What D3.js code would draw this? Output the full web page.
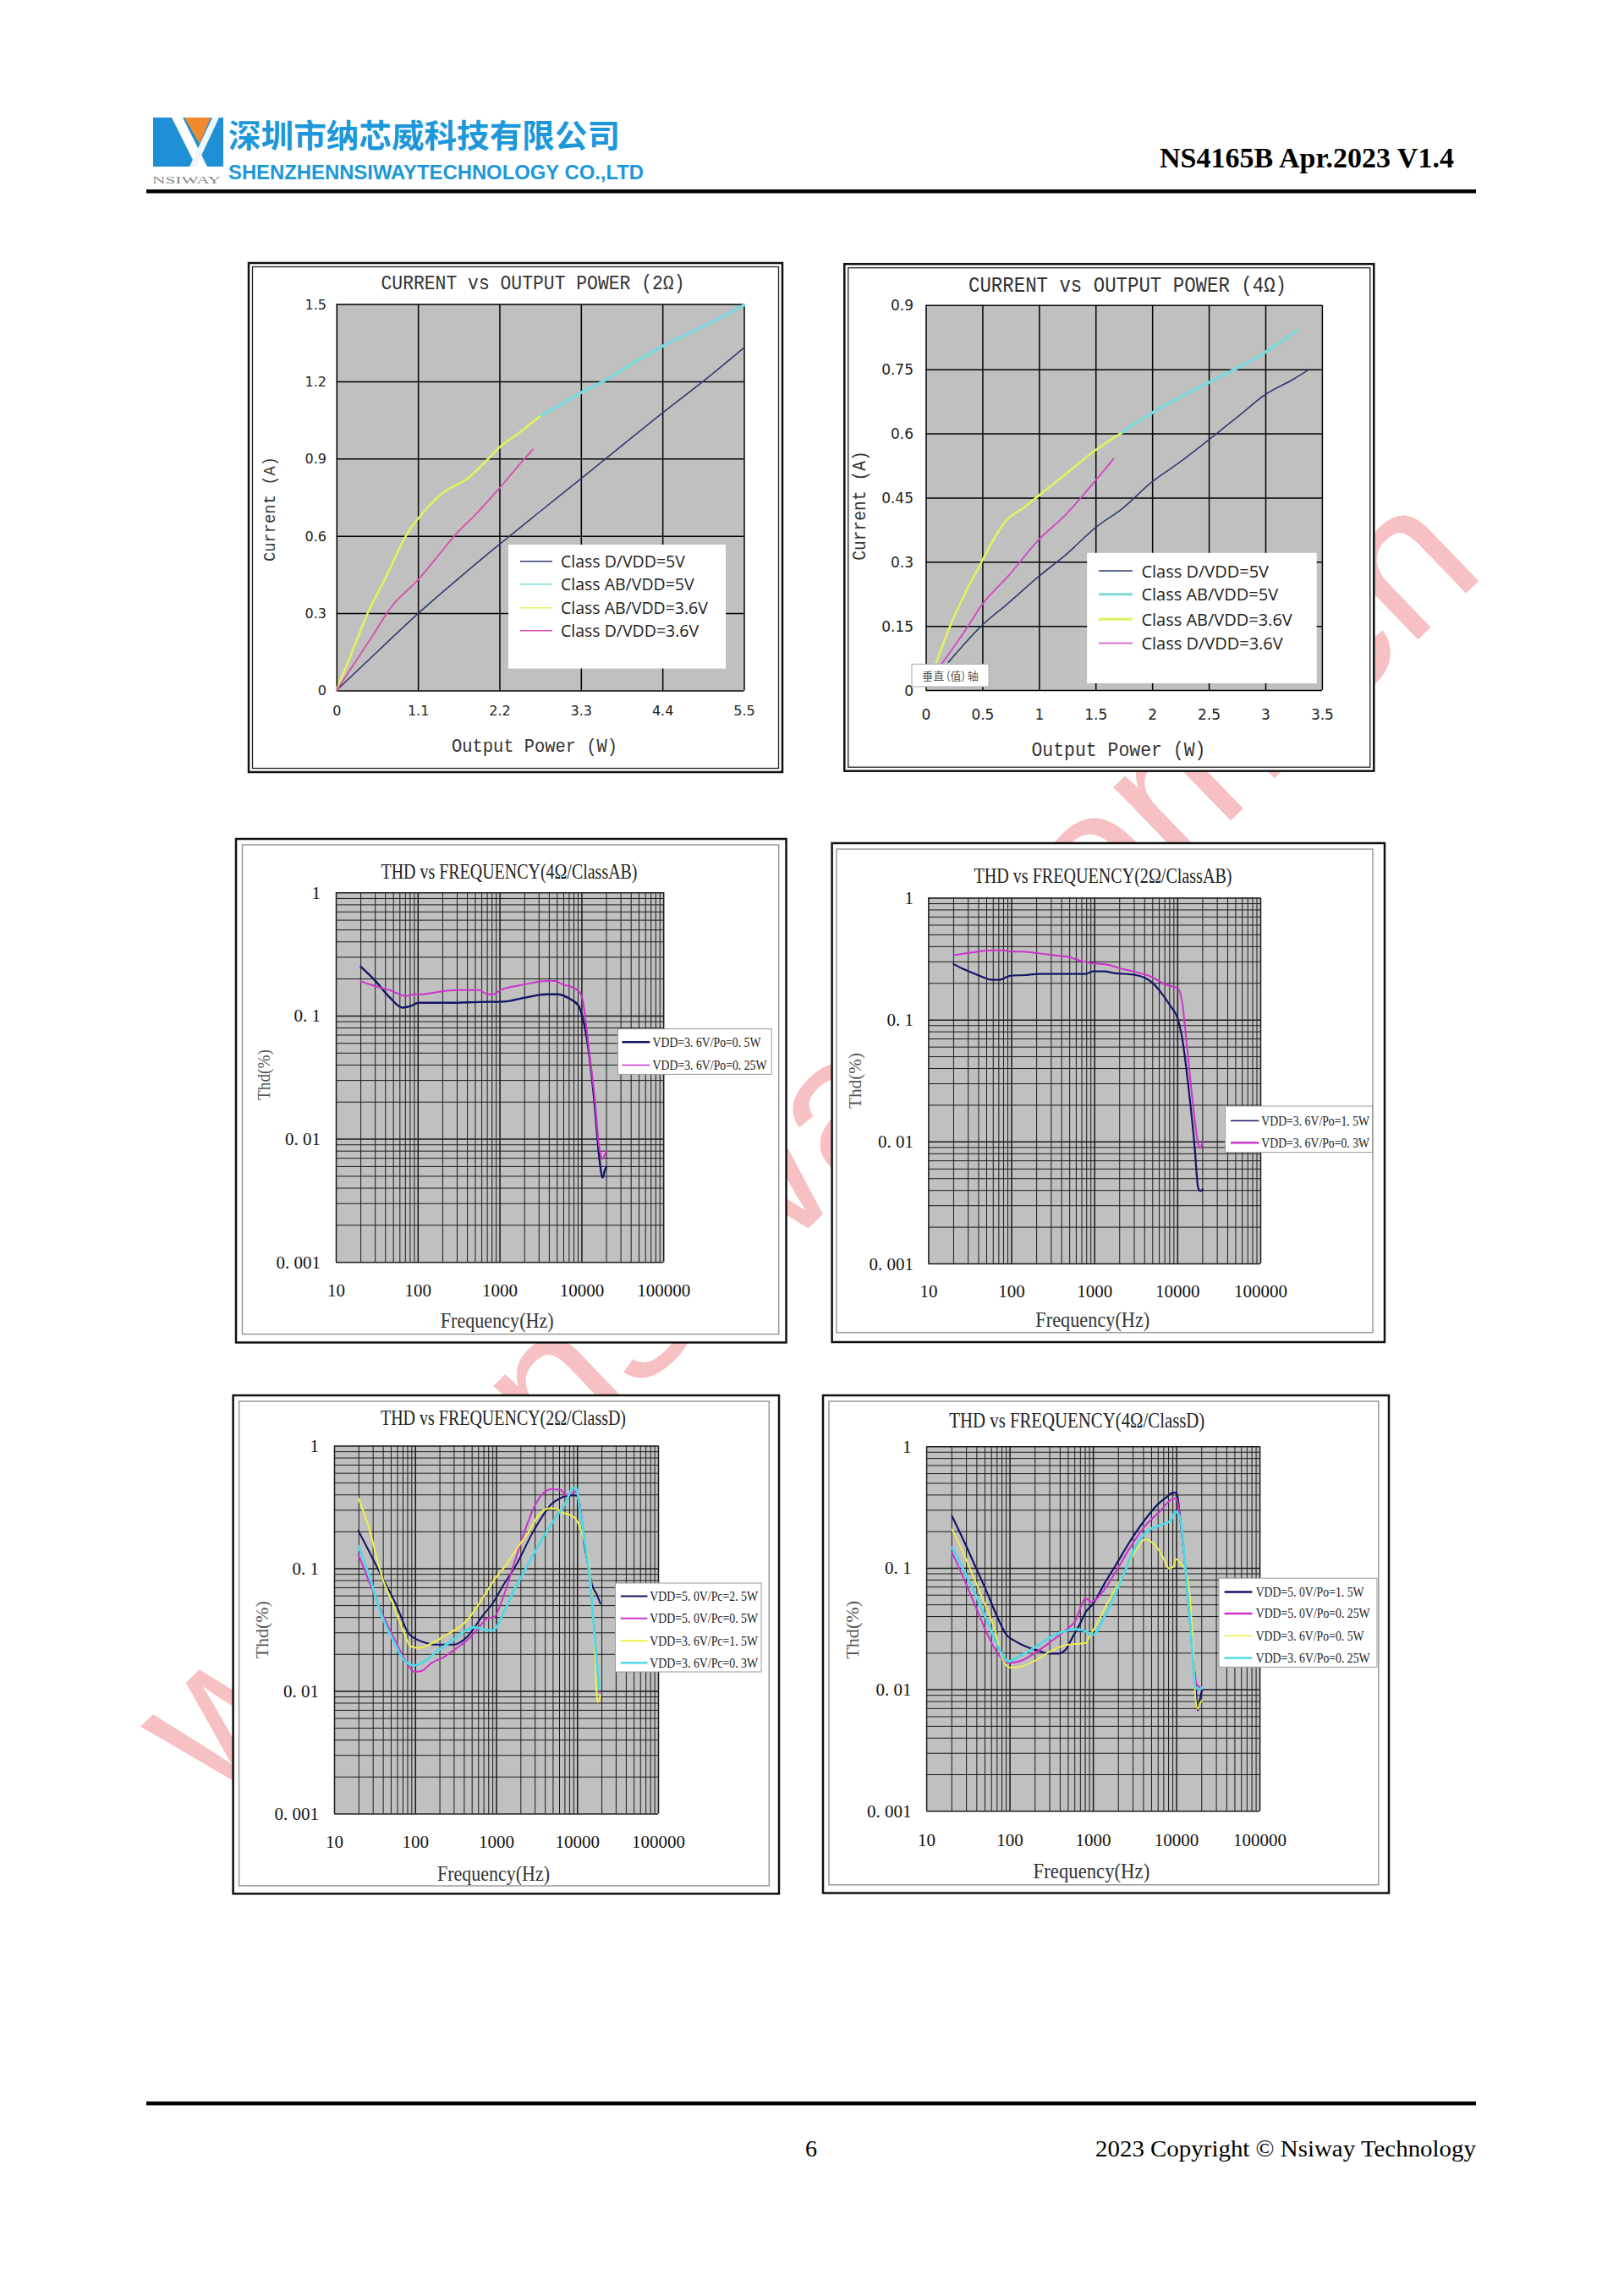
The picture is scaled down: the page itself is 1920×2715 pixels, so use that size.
<!DOCTYPE html>
<html><head><meta charset="utf-8">
<script src="https://cdn.jsdelivr.net/npm/d3@7"></script>
<style>html,body{margin:0;padding:0;background:#fff;}svg{display:block;}</style>
</head><body>
<svg id="page" width="1920" height="2715"></svg>
<script>
// ================= DATA =================
const headerCn = "深圳市纳芯威科技有限公司";
const headerEn = "SHENZHENNSIWAYTECHNOLOGY CO.,LTD";
const logoText = "NSIWAY";
const docTitle = "NS4165B Apr.2023 V1.4";
const pageNum = "6";
const copyright = "2023 Copyright © Nsiway Technology";
const watermarkText = "www.nsiway.com.cn";
const tooltipText = "垂直 (值) 轴";

// Current vs output power charts
const curSeriesNames = ["Class D/VDD=5V", "Class AB/VDD=5V", "Class AB/VDD=3.6V", "Class D/VDD=3.6V"];
const cur2XTicks = [0, 1.1, 2.2, 3.3, 4.4, 5.5];
const cur2XLabels = ["0", "1.1", "2.2", "3.3", "4.4", "5.5"];
const cur2YTicks = [0, 0.3, 0.6, 0.9, 1.2, 1.5];
const cur2YLabels = ["0", "0.3", "0.6", "0.9", "1.2", "1.5"];
const cur4XTicks = [0, 0.5, 1, 1.5, 2, 2.5, 3, 3.5];
const cur4XLabels = ["0", "0.5", "1", "1.5", "2", "2.5", "3", "3.5"];
const cur4YTicks = [0, 0.15, 0.3, 0.45, 0.6, 0.75, 0.9];
const cur4YLabels = ["0", "0.15", "0.3", "0.45", "0.6", "0.75", "0.9"];

// 2 ohm
const cur2_D5 = [[0,0],[0.55,0.15],[1.1,0.298],[1.65,0.435],[2.2,0.567],[2.75,0.695],[3.3,0.822],[3.85,0.95],[4.4,1.077],[4.95,1.2],[5.5,1.33]];
const cur2_AB5 = [[2.745,1.064],[3.0,1.105],[3.3,1.156],[3.6,1.2],[4.0,1.27],[4.4,1.336],[5.0,1.42],[5.5,1.496]];
const cur2_AB36 = [[0,0],[0.19,0.135],[0.43,0.305],[0.66,0.436],[0.95,0.606],[1.23,0.71],[1.42,0.763],[1.8,0.83],[2.03,0.894],[2.21,0.946],[2.46,0.999],[2.745,1.064]];
const cur2_D36 = [[0,0],[0.43,0.187],[0.76,0.331],[1.1,0.429],[1.33,0.508],[1.61,0.606],[1.9,0.69],[2.21,0.789],[2.45,0.87],[2.65,0.936]];
// 4 ohm
const cur4_D5 = [[0.2,0.065],[0.496,0.151],[0.71,0.199],[1.0,0.266],[1.24,0.317],[1.5,0.38],[1.73,0.423],[2.0,0.487],[2.23,0.53],[2.5,0.585],[2.76,0.64],[3.0,0.691],[3.25,0.727],[3.39,0.75]];
const cur4_AB5 = [[1.72,0.6],[2.0,0.648],[2.5,0.719],[2.73,0.75],[3.0,0.79],[3.28,0.841]];
const cur4_AB36 = [[0.093,0.065],[0.217,0.151],[0.34,0.222],[0.496,0.301],[0.59,0.348],[0.71,0.396],[0.87,0.427],[1.0,0.455],[1.24,0.506],[1.5,0.561],[1.72,0.6]];
const cur4_D36 = [[0.14,0.061],[0.34,0.136],[0.496,0.199],[0.74,0.27],[1.0,0.352],[1.24,0.411],[1.5,0.49],[1.66,0.541]];

// THD vs frequency charts
const thdXTicks = [10, 100, 1000, 10000, 100000];
const thdXLabels = ["10", "100", "1000", "10000", "100000"];
const thdYTicks = [0.001, 0.01, 0.1, 1];
const thdYLabels = ["0. 001", "0. 01", "0. 1", "1"];

const thd4abNames = ["VDD=3. 6V/Po=0. 5W", "VDD=3. 6V/Po=0. 25W"];
const thd4ab_05 = [[20.1,0.25],[30.7,0.19],[45.8,0.14],[65,0.116],[83.5,0.12],[102,0.127],[251,0.127],[560,0.129],[1127,0.13],[2055,0.14],[3750,0.149],[5060,0.149],[7190,0.137],[9230,0.12],[10200,0.1],[12470,0.0476],[14500,0.0189],[16500,0.00707],[18230,0.00483],[19200,0.0055],[20150,0.00588]];
const thd4ab_025 = [[20.1,0.19],[30.7,0.173],[45.8,0.161],[72,0.144],[92,0.149],[118,0.149],[168,0.155],[307,0.161],[560,0.161],[719,0.149],[835,0.149],[1020,0.161],[1860,0.177],[3750,0.191],[4820,0.191],[5890,0.179],[7190,0.173],[9230,0.158],[10200,0.14],[12470,0.0506],[14500,0.0214],[16500,0.0085],[18230,0.00686],[19200,0.0073],[20150,0.008]];

const thd2abNames = ["VDD=3. 6V/Po=1. 5W", "VDD=3. 6V/Po=0. 3W"];
const thd2ab_15 = [[20.2,0.285],[26.4,0.26],[39.5,0.232],[58.9,0.212],[71.9,0.212],[97,0.229],[145,0.232],[217,0.237],[798,0.237],[955,0.249],[1318,0.249],[1692,0.241],[2936,0.234],[3963,0.222],[5090,0.199],[6540,0.163],[8410,0.127],[9970,0.105],[11360,0.0728],[13870,0.0253],[16130,0.00935],[17830,0.00418],[18930,0.00393],[20130,0.00405]];
const thd2ab_03 = [[20.2,0.337],[32.3,0.354],[58.9,0.37],[79.6,0.37],[97,0.361],[131.5,0.361],[196,0.352],[358,0.335],[484,0.327],[722,0.3],[976,0.289],[1456,0.282],[1966,0.265],[2936,0.249],[4840,0.225],[7240,0.194],[10280,0.179],[11360,0.144],[13200,0.0567],[15360,0.021],[17830,0.00966],[18750,0.0088],[20130,0.00995]];

const thd2dNames = ["VDD=5. 0V/Pc=2. 5W", "VDD=5. 0V/Pc=0. 5W", "VDD=3. 6V/Pc=1. 5W", "VDD=3. 6V/Pc=0. 3W"];
const thd2d_5_25 = [[19.9,0.203],[26.2,0.143],[39.2,0.0845],[58.7,0.05],[83.7,0.0292],[108,0.0261],[139,0.0245],[179,0.0238],[297,0.0238],[445,0.0278],[667,0.0402],[903,0.0515],[1224,0.0724],[1835,0.111],[2754,0.189],[3727,0.265],[4800,0.333],[6180,0.372],[7960,0.391],[9750,0.391],[10790,0.329],[11930,0.177],[13900,0.102],[15370,0.0724],[17360,0.062],[19410,0.0515]];
const thd2d_5_05 = [[19.9,0.13],[26.2,0.0819],[39.2,0.0428],[58.7,0.0245],[83.7,0.0159],[97.5,0.0143],[119,0.0145],[162,0.017],[219,0.0186],[328,0.0224],[445,0.0261],[603,0.0324],[776,0.039],[951,0.0402],[1224,0.0583],[1660,0.108],[2248,0.2],[3046,0.329],[3921,0.416],[4800,0.442],[6310,0.436],[7190,0.396],[8370,0.408],[9750,0.421],[10790,0.329],[12560,0.157],[14620,0.0746],[17010,0.0217],[18820,0.0097]];
const thd2d_36_15 = [[19.9,0.372],[26.2,0.227],[39.2,0.0845],[53,0.0515],[71.9,0.0305],[88,0.0231],[113.5,0.0224],[162,0.0245],[243,0.0286],[402,0.0356],[545,0.0455],[738,0.062],[1000,0.0845],[1355,0.108],[1835,0.147],[2489,0.195],[3367,0.273],[4560,0.309],[5580,0.305],[6840,0.282],[8370,0.27],[9750,0.249],[11930,0.177],[14620,0.0845],[16180,0.0314],[17920,0.0081],[19410,0.00914]];
const thd2d_36_03 = [[19.9,0.152],[26.2,0.0927],[39.2,0.0402],[55.8,0.0245],[71.9,0.018],[97.5,0.0161],[132,0.0175],[198,0.0217],[297,0.0261],[402,0.0305],[545,0.033],[667,0.032],[903,0.031],[1224,0.0428],[1660,0.066],[2248,0.0955],[3046,0.138],[4125,0.195],[5580,0.265],[7190,0.339],[8810,0.448],[9750,0.453],[10790,0.309],[12560,0.157],[14620,0.0746],[17010,0.0217],[18820,0.0103]];

const thd4dNames = ["VDD=5. 0V/Po=1. 5W", "VDD=5. 0V/Po=0. 25W", "VDD=3. 6V/Po=0. 5W", "VDD=3. 6V/Po=0. 25W"];
const thd4d_5_15 = [[20.4,0.265],[28.3,0.166],[38.5,0.104],[52.3,0.0652],[71,0.0396],[91.6,0.0281],[118,0.0248],[161,0.0223],[218,0.0209],[297,0.0197],[383,0.0197],[470,0.0212],[576,0.0272],[706,0.0349],[824,0.0434],[1010,0.0508],[1372,0.0738],[1863,0.104],[2803,0.166],[4220,0.249],[6030,0.334],[7780,0.385],[9070,0.415],[10050,0.415],[11130,0.257],[12980,0.0948],[15130,0.0272],[17100,0.0107],[18170,0.0067],[19130,0.0081],[20550,0.01]];
const thd4d_5_025 = [[20.4,0.1335],[28.3,0.081],[38.5,0.0492],[52.3,0.0299],[71,0.02],[96.4,0.0165],[131,0.017],[197,0.0197],[297,0.024],[447,0.0299],[607,0.036],[824,0.0558],[959,0.0524],[1303,0.0631],[1863,0.0918],[2803,0.147],[4220,0.22],[6350,0.291],[8630,0.362],[10050,0.373],[11130,0.257],[12980,0.0948],[15130,0.0272],[17620,0.011],[19130,0.0104],[20550,0.01]];
const thd4d_36_05 = [[20.4,0.2065],[28.3,0.129],[38.5,0.0786],[52.3,0.0477],[67.5,0.0299],[82.7,0.0176],[101.6,0.0151],[131,0.0153],[197,0.017],[297,0.0202],[447,0.0229],[671,0.0237],[824,0.024],[912,0.0272],[1119,0.0349],[1521,0.0524],[2066,0.0762],[2803,0.114],[3443,0.147],[4220,0.171],[5180,0.161],[6680,0.129],[8200,0.099],[9070,0.101],[10050,0.118],[11480,0.107],[12980,0.0948],[14350,0.0652],[15910,0.024],[17100,0.0083],[18170,0.0069],[19130,0.0076],[20550,0.0081]];
const thd4d_36_025 = [[20.4,0.148],[28.3,0.0948],[38.5,0.0612],[52.3,0.0384],[71,0.0233],[96.4,0.017],[131,0.0187],[197,0.0219],[297,0.0264],[447,0.0299],[671,0.0312],[824,0.0299],[1010,0.0281],[1372,0.0396],[1863,0.0612],[2535,0.101],[3443,0.161],[4680,0.203],[6350,0.224],[8630,0.245],[9750,0.291],[11130,0.257],[12980,0.0948],[15130,0.0272],[17100,0.0104],[19130,0.01],[20550,0.0104]];

// ================= DRAWING =================
const svg = d3.select('#page');
svg.append('rect').attr('width', 1920).attr('height', 2715).attr('fill', '#fff');

// watermark (under the charts)
svg.append('text').text(watermarkText)
  .attr('transform', 'translate(253,2131) rotate(-44)')
  .attr('font-family', 'Liberation Sans, Arial, sans-serif').attr('font-size', 236)
  .attr('fill', '#f7c0c3');

// ---------- header ----------
const hdr = svg.append('g');
hdr.append('rect').attr('x', 181).attr('y', 139).attr('width', 83).attr('height', 58).attr('fill', '#1f8fd6');
hdr.append('polygon').attr('points', '203,139 216,139 245,197 232,197').attr('fill', '#fff');
hdr.append('polygon').attr('points', '224,197 232,197 259,139 251,139').attr('fill', '#eef6fc');
hdr.append('polygon').attr('points', '218,139 249,139 236,170').attr('fill', '#f08a2c');
hdr.append('text').text(logoText).attr('x', 180).attr('y', 217)
  .attr('font-family', 'Liberation Serif, serif').attr('font-size', 13).attr('fill', '#8a8a8a')
  .attr('textLength', 81).attr('lengthAdjust', 'spacingAndGlyphs');
hdr.append('text').text(headerCn).attr('x', 270).attr('y', 174)
  .attr('font-family', 'Noto Sans CJK SC, sans-serif').attr('font-weight', 'bold').attr('font-size', 38)
  .attr('fill', '#1c98da').attr('textLength', 463).attr('lengthAdjust', 'spacingAndGlyphs');
hdr.append('text').text(headerEn).attr('x', 270).attr('y', 211.5)
  .attr('font-family', 'Liberation Sans, Arial, sans-serif').attr('font-weight', 'bold').attr('font-size', 24)
  .attr('fill', '#1c98da').attr('textLength', 491).attr('lengthAdjust', 'spacingAndGlyphs');
hdr.append('text').text(docTitle).attr('x', 1371).attr('y', 198)
  .attr('font-family', 'Liberation Serif, serif').attr('font-weight', 'bold').attr('font-size', 33)
  .attr('fill', '#000').attr('textLength', 348).attr('lengthAdjust', 'spacingAndGlyphs');
hdr.append('rect').attr('x', 173).attr('y', 224).attr('width', 1572).attr('height', 4.5).attr('fill', '#000');

// ---------- footer ----------
svg.append('rect').attr('x', 173).attr('y', 2485).attr('width', 1572).attr('height', 4.5).attr('fill', '#000');
svg.append('text').text(pageNum).attr('x', 952).attr('y', 2550)
  .attr('font-family', 'Liberation Serif, serif').attr('font-size', 28).attr('fill', '#000');
svg.append('text').text(copyright).attr('x', 1295).attr('y', 2550)
  .attr('font-family', 'Liberation Serif, serif').attr('font-size', 28).attr('fill', '#000')
  .attr('textLength', 450).attr('lengthAdjust', 'spacingAndGlyphs');

// ---------- helpers ----------
function label(g, t, x, y, size, family, fill, len, rotate) {
  const el = g.append('text').text(t)
    .attr('transform', `translate(${x},${y})` + (rotate ? ' rotate(-90)' : ''))
    .attr('text-anchor', 'middle').attr('dominant-baseline', 'central')
    .attr('font-family', family).attr('font-size', size).attr('fill', fill);
  if (len) el.attr('textLength', len).attr('lengthAdjust', 'spacingAndGlyphs');
  return el;
}
function rect(g, b, fill, stroke, sw) {
  return g.append('rect').attr('x', b[0]).attr('y', b[1]).attr('width', b[2] - b[0]).attr('height', b[3] - b[1])
    .attr('fill', fill).attr('stroke', stroke || 'none').attr('stroke-width', sw || 0);
}

const MONO = 'Liberation Mono, monospace';
const SERIF = 'Liberation Serif, serif';

// ---------- current vs output power ----------
function drawCurrent(c) {
  const g = svg.append('g');
  rect(g, c.box, '#fff', '#111', 2.5);
  rect(g, [c.box[0] + 4.5, c.box[1] + 4.5, c.box[2] - 4.5, c.box[3] - 4.5], 'none', '#222', 1.3);
  const [px0, py0, px1, py1] = c.plot;
  const x = d3.scaleLinear().domain([c.xTicks[0], c.xTicks[c.xTicks.length - 1]]).range([px0, px1]);
  const y = d3.scaleLinear().domain([c.yTicks[0], c.yTicks[c.yTicks.length - 1]]).range([py1, py0]);
  rect(g, c.plot, '#c0c0c0');

  const xa = d3.axisBottom(x).tickValues(c.xTicks).tickFormat(d => c.xLabels[c.xTicks.indexOf(d)])
    .tickSize(-(py1 - py0)).tickSizeOuter(0);
  const gx = g.append('g').attr('transform', `translate(0,${py1})`).call(xa);
  gx.select('.domain').remove();
  gx.selectAll('line').attr('stroke', '#000').attr('stroke-width', 1.5);
  gx.selectAll('text').attr('dy', null).attr('y', c.xOff).attr('dominant-baseline', 'central')
    .attr('font-family', 'DejaVu Sans, sans-serif').attr('font-size', c.tickFont).attr('fill', '#222');

  const ya = d3.axisLeft(y).tickValues(c.yTicks).tickFormat(d => c.yLabels[c.yTicks.indexOf(d)])
    .tickSize(-(px1 - px0)).tickSizeOuter(0).tickPadding(c.yPad);
  const gy = g.append('g').attr('transform', `translate(${px0},0)`).call(ya);
  gy.select('.domain').remove();
  gy.selectAll('line').attr('stroke', '#000').attr('stroke-width', 1.5);
  gy.selectAll('text').attr('dy', null).attr('dominant-baseline', 'central')
    .attr('font-family', 'DejaVu Sans, sans-serif').attr('font-size', c.tickFont).attr('fill', '#222');

  const line = d3.line().x(d => x(d[0])).y(d => y(d[1])).curve(d3.curveMonotoneX);
  c.series.forEach(s => {
    g.append('path').datum(s.data).attr('d', line).attr('fill', 'none')
      .attr('stroke', s.color).attr('stroke-width', s.width)
      .attr('stroke-linejoin', 'round').attr('stroke-linecap', 'round');
  });

  const L = c.legend;
  rect(g, L.box, '#fff');
  c.series.forEach((s, i) => {
    g.append('line').attr('x1', L.lx[0]).attr('x2', L.lx[1]).attr('y1', L.ys[i]).attr('y2', L.ys[i])
      .attr('stroke', s.color).attr('stroke-width', s.legendWidth);
    g.append('text').text(s.name).attr('x', L.tx).attr('y', L.ys[i]).attr('dominant-baseline', 'central')
      .attr('font-family', 'Open Sans, sans-serif').attr('font-size', L.font).attr('fill', '#222');
  });

  label(g, c.title.text, c.title.x, c.title.y, c.title.size, MONO, '#333', c.title.len);
  label(g, c.xTitle.text, c.xTitle.x, c.xTitle.y, c.xTitle.size, MONO, '#333', c.xTitle.len);
  label(g, c.yTitle.text, c.yTitle.x, c.yTitle.y, c.yTitle.size, MONO, '#333', c.yTitle.len, true);

  if (c.tooltip) {
    rect(g, c.tooltip.box, '#fff', '#aaa', 1);
    label(g, c.tooltip.text, (c.tooltip.box[0] + c.tooltip.box[2]) / 2, (c.tooltip.box[1] + c.tooltip.box[3]) / 2,
      13, 'Noto Sans CJK SC, sans-serif', '#555');
  }
}

const CN = '#2d3d6b', CC = '#7fd8d8', CY = '#e2f25c';
drawCurrent({
  box: [294, 311, 925, 913], plot: [397.8, 359.6, 879.5, 816.4],
  xTicks: cur2XTicks, xLabels: cur2XLabels, yTicks: cur2YTicks, yLabels: cur2YLabels,
  tickFont: 16, xOff: 24.6, yPad: 11.8,
  title: { text: 'CURRENT vs OUTPUT POWER (2Ω)', x: 630, y: 336, size: 23, len: 359 },
  xTitle: { text: 'Output Power (W)', x: 632, y: 883, size: 22, len: 196 },
  yTitle: { text: 'Current (A)', x: 319, y: 602, size: 21, len: 124 },
  legend: { box: [601, 644, 858, 790.5], ys: [663.7, 690.8, 718.7, 745.8], lx: [615, 653], tx: 663, font: 19.5 },
  series: [
    { name: curSeriesNames[0], data: cur2_D5, color: CN, width: 1.6, legendWidth: 1.5 },
    { name: curSeriesNames[1], data: cur2_AB5, color: CC, width: 3.6, legendWidth: 1.5 },
    { name: curSeriesNames[2], data: cur2_AB36, color: CY, width: 2.6, legendWidth: 1.5 },
    { name: curSeriesNames[3], data: cur2_D36, color: '#d84fa8', width: 1.8, legendWidth: 1.5 }
  ]
});
drawCurrent({
  box: [998.3, 312.2, 1624.3, 911.7], plot: [1094.5, 360.8, 1562.9, 816],
  xTicks: cur4XTicks, xLabels: cur4XLabels, yTicks: cur4YTicks, yLabels: cur4YLabels,
  tickFont: 17, xOff: 29, yPad: 14.5,
  title: { text: 'CURRENT vs OUTPUT POWER (4Ω)', x: 1333, y: 338, size: 25, len: 376 },
  xTitle: { text: 'Output Power (W)', x: 1322.5, y: 887.7, size: 23, len: 206 },
  yTitle: { text: 'Current (A)', x: 1017.8, y: 598, size: 22, len: 129.5 },
  legend: { box: [1285.2, 653.8, 1556.7, 808], ys: [675, 702.8, 732.3, 760.6], lx: [1299, 1339], tx: 1349.4, font: 20 },
  tooltip: { box: [1078, 785.3, 1169, 812], text: tooltipText },
  series: [
    { name: curSeriesNames[0], data: cur4_D5, color: CN, width: 1.6, legendWidth: 1.5 },
    { name: curSeriesNames[1], data: cur4_AB5, color: CC, width: 3.6, legendWidth: 3 },
    { name: curSeriesNames[2], data: cur4_AB36, color: CY, width: 2.6, legendWidth: 3 },
    { name: curSeriesNames[3], data: cur4_D36, color: '#d247c0', width: 1.8, legendWidth: 1.5 }
  ]
});

// ---------- THD vs frequency ----------
function drawThd(c) {
  const g = svg.append('g');
  rect(g, c.outer, '#fff', '#111', 2.5);
  rect(g, c.inner, 'none', '#9a9a9a', 1.5);
  const [px0, py0, px1, py1] = c.plot;
  const x = d3.scaleLog().domain([thdXTicks[0], thdXTicks[thdXTicks.length - 1]]).range([px0, px1]);
  const y = d3.scaleLog().domain([thdYTicks[0], thdYTicks[thdYTicks.length - 1]]).range([py1, py0]);
  rect(g, c.plot, '#c0c0c0');

  // minor + major grid through axes
  const isMajor = v => Math.abs(Math.log10(v) - Math.round(Math.log10(v))) < 1e-9;
  const gxg = g.append('g').attr('transform', `translate(0,${py1})`)
    .call(d3.axisBottom(x).tickValues(x.ticks()).tickFormat('').tickSize(-(py1 - py0)).tickSizeOuter(0));
  gxg.select('.domain').remove();
  gxg.selectAll('line').attr('stroke', '#1a1a1a').attr('stroke-width', d => isMajor(d) ? 1.5 : 1);
  const gyg = g.append('g').attr('transform', `translate(${px0},0)`)
    .call(d3.axisLeft(y).tickValues(y.ticks()).tickFormat('').tickSize(-(px1 - px0)).tickSizeOuter(0));
  gyg.select('.domain').remove();
  gyg.selectAll('line').attr('stroke', '#1a1a1a').attr('stroke-width', d => isMajor(d) ? 1.5 : 1);

  // tick labels
  const gx = g.append('g').attr('transform', `translate(0,${py1})`)
    .call(d3.axisBottom(x).tickValues(thdXTicks).tickFormat(d => thdXLabels[thdXTicks.indexOf(d)]).tickSize(0));
  gx.select('.domain').remove();
  gx.selectAll('text').attr('dy', null).attr('y', c.xOff).attr('dominant-baseline', 'central')
    .attr('font-family', SERIF).attr('font-size', 21).attr('fill', '#111');
  const gy = g.append('g').attr('transform', `translate(${px0},0)`)
    .call(d3.axisLeft(y).tickValues(thdYTicks).tickFormat(d => thdYLabels[thdYTicks.indexOf(d)]).tickSize(0).tickPadding(c.yPad));
  gy.select('.domain').remove();
  gy.selectAll('text').attr('dy', null).attr('dominant-baseline', 'central')
    .attr('font-family', SERIF).attr('font-size', 21).attr('fill', '#111');

  const line = d3.line().x(d => x(d[0])).y(d => y(d[1])).curve(d3.curveMonotoneX);
  c.series.forEach(s => {
    g.append('path').datum(s.data).attr('d', line).attr('fill', 'none')
      .attr('stroke', s.color).attr('stroke-width', s.width)
      .attr('stroke-linejoin', 'round').attr('stroke-linecap', 'round');
  });

  const L = c.legend;
  rect(g, L.box, '#fff', '#999', 1);
  c.series.forEach((s, i) => {
    g.append('line').attr('x1', L.lx[0]).attr('x2', L.lx[1]).attr('y1', L.ys[i]).attr('y2', L.ys[i])
      .attr('stroke', s.color).attr('stroke-width', s.legendWidth);
    g.append('text').text(s.name).attr('x', L.tx).attr('y', L.ys[i]).attr('dominant-baseline', 'central')
      .attr('font-family', SERIF).attr('font-size', 17).attr('fill', '#222')
      .attr('textLength', s.name.length * 7.1).attr('lengthAdjust', 'spacingAndGlyphs');
  });

  label(g, c.title.text, c.title.x, c.title.y, 26, SERIF, '#222', c.title.len);
  label(g, 'Frequency(Hz)', c.xTitle.x, c.xTitle.y, 26, SERIF, '#333', c.xTitle.len);
  label(g, 'Thd(%)', c.yTitle.x, c.yTitle.y, 22, SERIF, '#555', c.yTitle.len, true);
}

const TN = '#141466', TM = '#cc33cc', TY = '#f0f046', TC = '#4fd8e8';
drawThd({
  outer: [279, 992, 929.5, 1587.5], inner: [286.5, 999, 920.7, 1577.6], plot: [397, 1055.3, 784.2, 1492.2],
  xOff: 33.8, yPad: 18,
  title: { text: 'THD vs FREQUENCY(4Ω/ClassAB)', x: 602, y: 1030, len: 303 },
  xTitle: { x: 587.7, y: 1561, len: 134 }, yTitle: { x: 311.6, y: 1271, len: 60 },
  legend: { box: [730.4, 1216.7, 912.2, 1270.4], ys: [1232.3, 1259.5], lx: [735.4, 768.3], tx: 771.6 },
  series: [
    { name: thd4abNames[0], data: thd4ab_05, color: TN, width: 2.4, legendWidth: 2.5 },
    { name: thd4abNames[1], data: thd4ab_025, color: TM, width: 2, legendWidth: 1.5 }
  ]
});
drawThd({
  outer: [983.6, 997, 1637, 1587], inner: [989, 1004, 1623, 1575.7], plot: [1097.4, 1061.5, 1490, 1494],
  xOff: 33, yPad: 17.4,
  title: { text: 'THD vs FREQUENCY(2Ω/ClassAB)', x: 1304, y: 1035, len: 305 },
  xTitle: { x: 1291.8, y: 1560.2, len: 135 }, yTitle: { x: 1010.6, y: 1278, len: 66 },
  legend: { box: [1448.6, 1308, 1622.5, 1362.6], ys: [1325.2, 1351.3], lx: [1455, 1488.3], tx: 1491.3 },
  series: [
    { name: thd2abNames[0], data: thd2ab_15, color: TN, width: 2.2, legendWidth: 1.5 },
    { name: thd2abNames[1], data: thd2ab_03, color: TM, width: 2, legendWidth: 2.5 }
  ]
});
drawThd({
  outer: [275.6, 1650, 921, 2239.3], inner: [282.6, 1657, 909.3, 2230], plot: [395, 1709.5, 778, 2144.4],
  xOff: 33.6, yPad: 18,
  title: { text: 'THD vs FREQUENCY(2Ω/ClassD)', x: 595, y: 1676.4, len: 290 },
  xTitle: { x: 583.5, y: 2215.2, len: 133 }, yTitle: { x: 309.5, y: 1927.3, len: 68 },
  legend: { box: [727.5, 1872, 900, 1977], ys: [1887.6, 1913.7, 1940.2, 1966.2], lx: [733.8, 765.4], tx: 768.3 },
  series: [
    { name: thd2dNames[0], data: thd2d_5_25, color: TN, width: 2, legendWidth: 2 },
    { name: thd2dNames[1], data: thd2d_5_05, color: TM, width: 2, legendWidth: 2 },
    { name: thd2dNames[2], data: thd2d_36_15, color: TY, width: 2, legendWidth: 2 },
    { name: thd2dNames[3], data: thd2d_36_03, color: TC, width: 2.8, legendWidth: 2.5 }
  ]
});
drawThd({
  outer: [973, 1650, 1642, 2238.5], inner: [980, 1657, 1629.8, 2228.8], plot: [1095.1, 1710.2, 1489.1, 2141.3],
  xOff: 35, yPad: 17.5,
  title: { text: 'THD vs FREQUENCY(4Ω/ClassD)', x: 1273.3, y: 1679, len: 302 },
  xTitle: { x: 1290.4, y: 2212, len: 137.6 }, yTitle: { x: 1007.7, y: 1927.3, len: 69 },
  legend: { box: [1441, 1866.2, 1628, 1971.3], ys: [1882.6, 1907.9, 1934.3, 1960.4], lx: [1447.6, 1480.4], tx: 1484.7 },
  series: [
    { name: thd4dNames[0], data: thd4d_5_15, color: TN, width: 2.2, legendWidth: 2.5 },
    { name: thd4dNames[1], data: thd4d_5_025, color: TM, width: 2, legendWidth: 2.5 },
    { name: thd4dNames[2], data: thd4d_36_05, color: TY, width: 1.8, legendWidth: 1.5 },
    { name: thd4dNames[3], data: thd4d_36_025, color: TC, width: 2.8, legendWidth: 2.5 }
  ]
});
</script>
</body></html>
